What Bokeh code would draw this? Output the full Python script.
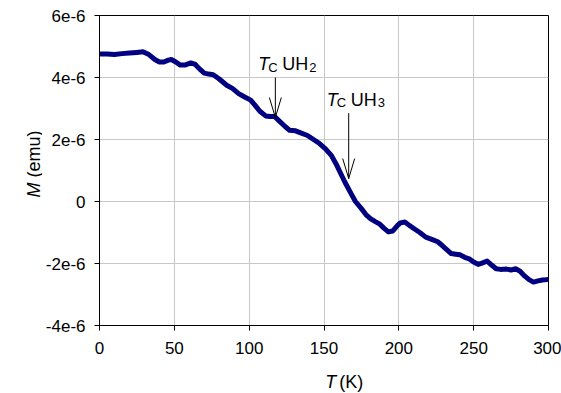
import math
from bokeh.plotting import figure
from bokeh.layouts import row, column
from bokeh.models import Range1d, FixedTicker, Label, ColumnDataSource
from bokeh.core.properties import value
from bokeh.embed import file_html
from bokeh.resources import INLINE

# Magnetisation versus temperature
temperature_k = [1, 5, 10, 15, 20, 25, 29, 33, 37, 40, 43, 46, 48, 51, 54, 57,
                 61, 64, 67, 70, 73, 76, 80, 85, 89, 93, 97, 101, 104, 107, 111,
                 114, 117, 120, 124, 127, 131, 134, 139, 143, 147, 151, 155, 158,
                 161, 164, 168, 171, 175, 178, 181, 184, 187, 190, 193, 196, 199,
                 201, 204, 207, 210, 214, 218, 222, 226, 229, 232, 235, 238, 241,
                 244, 247, 250, 253, 256, 259, 262, 265, 268, 272, 275, 278, 281,
                 284, 287, 290, 293, 296, 299]
moment_ue = [4.76, 4.76, 4.74, 4.77, 4.79, 4.81, 4.83, 4.74, 4.58, 4.50, 4.50,
             4.56, 4.58, 4.50, 4.40, 4.40, 4.47, 4.42, 4.27, 4.14, 4.11, 4.09,
             3.95, 3.75, 3.64, 3.48, 3.37, 3.27, 3.10, 2.92, 2.76, 2.74, 2.74,
             2.60, 2.42, 2.30, 2.28, 2.22, 2.13, 2.00, 1.87, 1.70, 1.48, 1.22,
             0.92, 0.62, 0.26, 0.00, -0.23, -0.42, -0.55, -0.64, -0.72, -0.86,
             -0.98, -0.95, -0.78, -0.69, -0.66, -0.77, -0.87, -1.00, -1.15,
             -1.22, -1.30, -1.42, -1.55, -1.68, -1.70, -1.72, -1.80, -1.85,
             -1.95, -2.03, -1.98, -1.92, -2.05, -2.17, -2.19, -2.18, -2.21,
             -2.17, -2.25, -2.40, -2.52, -2.60, -2.56, -2.53, -2.52]
moment_emu = [m * 1e-6 for m in moment_ue]

x_ticks = [0, 50, 100, 150, 200, 250, 300]
y_ticks = [-4e-6, -2e-6, 0, 2e-6, 4e-6, 6e-6]
y_tick_labels = ["-4e-6", "-2e-6", "0", "2e-6", "4e-6", "6e-6"]

# Curie-temperature markers: arrow position, arrow tip and tail, phase name
tc_temps = [117.5, 166.5]
tc_tips = [2.71e-6, 0.74e-6]
tc_tails = [4.0e-6, 2.85e-6]
tc_phase = ["2", "3"]

W, H = 561, 393
YLAB_W = 42          # strip holding the vertical axis title
XLAB_H = 32          # strip holding the horizontal axis title
MAIN_W, MAIN_H = W - YLAB_W, H - XLAB_H
LEFT, RIGHT, TOP, BOTTOM = 98 - YLAB_W, 13, 15, 36
FONT = "Liberation Sans"


def blank(width, height):
    f = figure(width=width, height=height, output_backend="svg",
               toolbar_location=None, x_axis_type=None, y_axis_type=None,
               x_range=Range1d(0, width), y_range=Range1d(0, height),
               min_border=0)
    f.outline_line_color = None
    f.xgrid.visible = False
    f.ygrid.visible = False
    f.background_fill_color = "white"
    f.border_fill_color = "white"
    return f


p = figure(width=MAIN_W, height=MAIN_H, output_backend="svg", toolbar_location=None,
           x_range=Range1d(0, 300), y_range=Range1d(-4e-6, 6e-6),
           min_border_left=LEFT, min_border_right=RIGHT,
           min_border_top=TOP, min_border_bottom=BOTTOM)
p.background_fill_color = "white"
p.border_fill_color = "white"
p.outline_line_color = "black"
p.outline_line_width = 1

p.xaxis.ticker = FixedTicker(ticks=x_ticks)
p.yaxis.ticker = FixedTicker(ticks=y_ticks)
p.yaxis.major_label_overrides = dict(zip(y_ticks, y_tick_labels))
for ax in (p.xaxis[0], p.yaxis[0]):
    ax.axis_line_color = "black"
    ax.major_tick_line_color = "black"
    ax.major_tick_out = 5
    ax.major_tick_in = 0
    ax.minor_tick_line_color = None
    ax.major_label_text_font = FONT
    ax.major_label_text_font_size = "17px"
    ax.major_label_text_color = "black"
p.xaxis.major_label_standoff = 11
p.yaxis.major_label_standoff = 9

p.xgrid.grid_line_color = "#c8c8c8"
p.ygrid.grid_line_color = "#c8c8c8"

src = ColumnDataSource(dict(t=temperature_k, m=moment_emu))
p.line("t", "m", source=src, line_color="#000080", line_width=5,
       line_join="round", line_cap="round")

# pixels per data unit for sizing the arrow heads
frame_w = MAIN_W - LEFT - RIGHT
frame_h = MAIN_H - TOP - BOTTOM
px_x = frame_w / 300.0
px_y = frame_h / 10e-6
head_half_w = 6 / px_x
head_len = 20 / px_y

label_dx = [-17, -22]
for t, tip, tail, ph, dx in zip(tc_temps, tc_tips, tc_tails, tc_phase, label_dx):
    p.segment(x0=[t, t, t], y0=[tail, tip, tip],
              x1=[t, t - head_half_w, t + head_half_w],
              y1=[tip, tip + head_len, tip + head_len],
              line_color="black", line_width=1)
    base_off = 13.5
    pieces = [("T", 0, 0, "18px", "italic"),
              ("C", 10, -3, "13px", "normal"),
              ("UH", 24, 0, "18px", "normal"),
              (ph, 51, -3, "13px", "normal")]
    for txt, ox, oy, fs, style in pieces:
        p.add_layout(Label(x=t, y=tail, x_offset=dx + ox, y_offset=base_off + oy,
                           text=txt, text_font=FONT, text_font_size=fs,
                           text_font_style=style, text_color="black",
                           text_align="left", text_baseline="alphabetic"))

# vertical axis title: italic symbol followed by the unit
ylab = blank(YLAB_W, H)
ylab.text(x=[33], y=[H - 197], text=["M"], angle=math.pi / 2,
          text_font=value(FONT), text_font_size="18px", text_font_style="italic",
          text_align="left", text_baseline="alphabetic", text_color="black")
ylab.text(x=[33], y=[H - 177], text=["(emu)"], angle=math.pi / 2,
          text_font=value(FONT), text_font_size="18px",
          text_align="left", text_baseline="alphabetic", text_color="black")

# horizontal axis title
xlab = blank(MAIN_W, XLAB_H)
xlab.text(x=[303 - YLAB_W], y=[12], text=["T"],
          text_font=value(FONT), text_font_size="18px", text_font_style="italic",
          text_align="left", text_baseline="alphabetic", text_color="black")
xlab.text(x=[319 - YLAB_W], y=[12], text=["(K)"],
          text_font=value(FONT), text_font_size="18px",
          text_align="left", text_baseline="alphabetic", text_color="black")

layout = row(ylab, column(p, xlab, spacing=0), spacing=0)
open("out.html", "w").write(file_html(layout, INLINE))
